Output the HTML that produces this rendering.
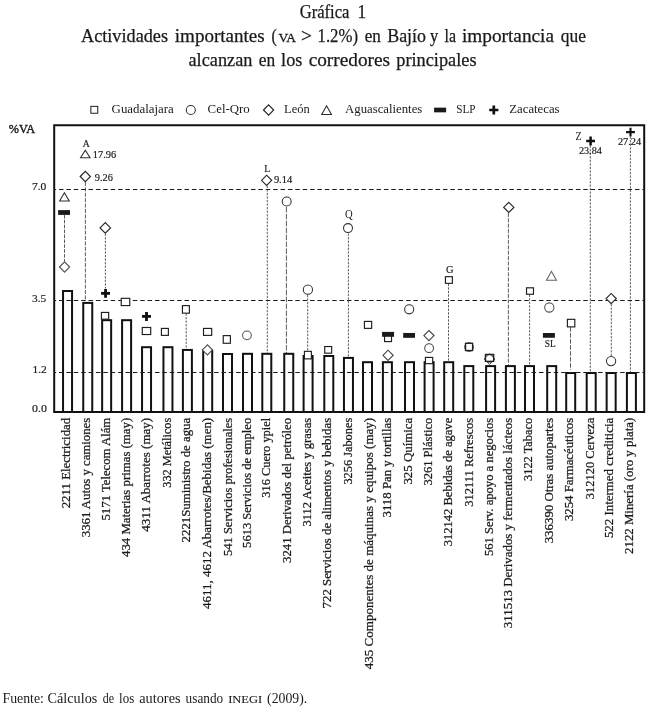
<!DOCTYPE html>
<html lang="es"><head><meta charset="utf-8"><title>Gráfica 1</title>
<style>html,body{margin:0;padding:0;background:#fff}#wrap{width:658px;height:710px;filter:grayscale(1);background:#fff}body{width:658px;height:710px;overflow:hidden;font-family:"Liberation Serif", serif}svg text{font-family:"Liberation Serif", serif}</style>
</head><body><div id="wrap">
<svg width="658" height="710" viewBox="0 0 658 710" style="display:block" shape-rendering="geometricPrecision">
<rect width="658" height="710" fill="#fff"/>
<text x="299.7" y="17.8" font-size="18.4" text-anchor="start" fill="#1a1a1a" textLength="49.8" lengthAdjust="spacingAndGlyphs" stroke="#1a1a1a" stroke-width="0.25">Gráfica</text>
<text x="357.5" y="17.8" font-size="18.4" text-anchor="start" fill="#1a1a1a" textLength="8.7" lengthAdjust="spacingAndGlyphs" stroke="#1a1a1a" stroke-width="0.25">1</text>
<text x="81" y="41.85" font-size="18.4" text-anchor="start" fill="#1a1a1a" textLength="87.0" lengthAdjust="spacingAndGlyphs" stroke="#1a1a1a" stroke-width="0.25">Actividades</text>
<text x="174.8" y="41.85" font-size="18.4" text-anchor="start" fill="#1a1a1a" textLength="89.9" lengthAdjust="spacingAndGlyphs" stroke="#1a1a1a" stroke-width="0.25">importantes</text>
<text x="271.5" y="41.85" font-size="18.4" text-anchor="start" fill="#1a1a1a" textLength="5.3" lengthAdjust="spacingAndGlyphs" stroke="#1a1a1a" stroke-width="0.25">(</text>
<text x="278.4" y="41.85" font-size="13.2" text-anchor="start" fill="#1a1a1a" textLength="17.7" lengthAdjust="spacingAndGlyphs" stroke="#1a1a1a" stroke-width="0.3">VA</text>
<text x="301.1" y="41.85" font-size="18.4" text-anchor="start" fill="#1a1a1a" textLength="10.9" lengthAdjust="spacingAndGlyphs" stroke="#1a1a1a" stroke-width="0.25">&gt;</text>
<text x="317.5" y="41.85" font-size="18.4" text-anchor="start" fill="#1a1a1a" textLength="40.5" lengthAdjust="spacingAndGlyphs" stroke="#1a1a1a" stroke-width="0.25">1.2%)</text>
<text x="364.8" y="41.85" font-size="18.4" text-anchor="start" fill="#1a1a1a" textLength="16.1" lengthAdjust="spacingAndGlyphs" stroke="#1a1a1a" stroke-width="0.25">en</text>
<text x="387.2" y="41.85" font-size="18.4" text-anchor="start" fill="#1a1a1a" textLength="38.8" lengthAdjust="spacingAndGlyphs" stroke="#1a1a1a" stroke-width="0.25">Bajío</text>
<text x="430" y="41.85" font-size="18.4" text-anchor="start" fill="#1a1a1a" textLength="8.2" lengthAdjust="spacingAndGlyphs" stroke="#1a1a1a" stroke-width="0.25">y</text>
<text x="444.5" y="41.85" font-size="18.4" text-anchor="start" fill="#1a1a1a" textLength="11.5" lengthAdjust="spacingAndGlyphs" stroke="#1a1a1a" stroke-width="0.25">la</text>
<text x="462" y="41.85" font-size="18.4" text-anchor="start" fill="#1a1a1a" textLength="92.0" lengthAdjust="spacingAndGlyphs" stroke="#1a1a1a" stroke-width="0.25">importancia</text>
<text x="560.8" y="41.85" font-size="18.4" text-anchor="start" fill="#1a1a1a" textLength="25.2" lengthAdjust="spacingAndGlyphs" stroke="#1a1a1a" stroke-width="0.25">que</text>
<text x="188.5" y="65.6" font-size="18.4" text-anchor="start" fill="#1a1a1a" textLength="63.9" lengthAdjust="spacingAndGlyphs" stroke="#1a1a1a" stroke-width="0.25">alcanzan</text>
<text x="258.7" y="65.6" font-size="18.4" text-anchor="start" fill="#1a1a1a" textLength="16.4" lengthAdjust="spacingAndGlyphs" stroke="#1a1a1a" stroke-width="0.25">en</text>
<text x="281.1" y="65.6" font-size="18.4" text-anchor="start" fill="#1a1a1a" textLength="21.3" lengthAdjust="spacingAndGlyphs" stroke="#1a1a1a" stroke-width="0.25">los</text>
<text x="308.7" y="65.6" font-size="18.4" text-anchor="start" fill="#1a1a1a" textLength="81.3" lengthAdjust="spacingAndGlyphs" stroke="#1a1a1a" stroke-width="0.25">corredores</text>
<text x="396.3" y="65.6" font-size="18.4" text-anchor="start" fill="#1a1a1a" textLength="80.2" lengthAdjust="spacingAndGlyphs" stroke="#1a1a1a" stroke-width="0.25">principales</text>
<rect x="90.85" y="106.35" width="6.90" height="6.90" fill="#fff" stroke="#1e1e1e" stroke-width="1.0"/>
<text x="111.6" y="113.2" font-size="12" text-anchor="start" fill="#1a1a1a" textLength="62.2" lengthAdjust="spacingAndGlyphs">Guadalajara</text>
<circle cx="190.8" cy="110" r="4.52" fill="#fff" stroke="#303030" stroke-width="1.05"/>
<text x="207.6" y="113.2" font-size="12" text-anchor="start" fill="#1a1a1a" textLength="42.2" lengthAdjust="spacingAndGlyphs">Cel-Qro</text>
<path d="M263.50 110L268.6 104.90L273.70 110L268.6 115.10Z" fill="#fff" stroke="#262626" stroke-width="1.15" stroke-linejoin="miter"/>
<text x="284.1" y="113.2" font-size="12" text-anchor="start" fill="#1a1a1a" textLength="25.6" lengthAdjust="spacingAndGlyphs">León</text>
<path d="M321.75 114.45L326.6 105.79L331.45 114.45Z" fill="#fff" stroke="#2e2e2e" stroke-width="1.1" stroke-linejoin="miter"/>
<text x="345.1" y="113.2" font-size="12" text-anchor="start" fill="#1a1a1a" textLength="77.2" lengthAdjust="spacingAndGlyphs">Aguascalientes</text>
<rect x="434.10" y="107.65" width="12" height="4.7" fill="#1a1a1a"/>
<text x="456.2" y="113.2" font-size="12" text-anchor="start" fill="#1a1a1a" textLength="19.3" lengthAdjust="spacingAndGlyphs">SLP</text>
<path d="M489.2 110H498.40000000000003M493.8 105.4V114.6" stroke="#111" stroke-width="2.7" fill="none"/>
<text x="509.3" y="113.2" font-size="12" text-anchor="start" fill="#1a1a1a" textLength="50.2" lengthAdjust="spacingAndGlyphs">Zacatecas</text>
<line x1="64.5" y1="214.9" x2="64.5" y2="261.6" stroke="#4a4a4a" stroke-width="0.9" stroke-dasharray="3.6 1.3"/>
<line x1="85.4" y1="182" x2="85.4" y2="300.4" stroke="#4a4a4a" stroke-width="0.9" stroke-dasharray="4 1.4"/>
<line x1="105.4" y1="233.6" x2="105.4" y2="288.6" stroke="#4a4a4a" stroke-width="0.9" stroke-dasharray="2.3 1.25"/>
<line x1="186.2" y1="313.4" x2="186.2" y2="349.5" stroke="#4a4a4a" stroke-width="0.9" stroke-dasharray="2.3 1.25"/>
<line x1="267.3" y1="185.7" x2="267.3" y2="354" stroke="#4a4a4a" stroke-width="0.9" stroke-dasharray="2.3 1.25"/>
<line x1="286.4" y1="207" x2="286.4" y2="354" stroke="#4a4a4a" stroke-width="0.9" stroke-dasharray="5.5 1.4"/>
<line x1="307.7" y1="294.8" x2="307.7" y2="351.5" stroke="#4a4a4a" stroke-width="0.9" stroke-dasharray="2.3 1.25"/>
<line x1="348.4" y1="233.5" x2="348.4" y2="357.8" stroke="#4a4a4a" stroke-width="0.9" stroke-dasharray="2.3 1.25"/>
<line x1="448.5" y1="283.8" x2="448.5" y2="361.6" stroke="#4a4a4a" stroke-width="0.9" stroke-dasharray="2.3 1.25"/>
<line x1="508.4" y1="212.9" x2="508.4" y2="365.8" stroke="#4a4a4a" stroke-width="0.9" stroke-dasharray="4 1.4"/>
<line x1="529.6" y1="294.6" x2="529.6" y2="365.8" stroke="#4a4a4a" stroke-width="0.9" stroke-dasharray="2.3 1.25"/>
<line x1="570.5" y1="327.2" x2="570.5" y2="369.8" stroke="#4a4a4a" stroke-width="0.9" stroke-dasharray="4.5 1.5"/>
<line x1="590.3" y1="145.5" x2="590.3" y2="372.0" stroke="#4a4a4a" stroke-width="0.9" stroke-dasharray="2.3 1.25"/>
<line x1="611.3" y1="304" x2="611.3" y2="356" stroke="#4a4a4a" stroke-width="0.9" stroke-dasharray="2.3 1.25"/>
<line x1="630.4" y1="136.5" x2="630.4" y2="372.0" stroke="#4a4a4a" stroke-width="0.9" stroke-dasharray="2.3 1.25"/>
<rect x="63.05" y="291.00" width="9" height="121.00" fill="#fff" stroke="#111" stroke-width="2"/>
<rect x="83.25" y="302.90" width="9" height="109.10" fill="#fff" stroke="#111" stroke-width="2"/>
<rect x="102.15" y="320.20" width="9" height="91.80" fill="#fff" stroke="#111" stroke-width="2"/>
<rect x="122.10" y="320.20" width="9" height="91.80" fill="#fff" stroke="#111" stroke-width="2"/>
<rect x="142.05" y="347.20" width="9" height="64.80" fill="#fff" stroke="#111" stroke-width="2"/>
<rect x="163.45" y="347.20" width="9" height="64.80" fill="#fff" stroke="#111" stroke-width="2"/>
<rect x="182.90" y="349.95" width="9" height="62.05" fill="#fff" stroke="#111" stroke-width="2"/>
<rect x="203.20" y="350.70" width="9" height="61.30" fill="#fff" stroke="#111" stroke-width="2"/>
<rect x="223.00" y="354.00" width="9" height="58.00" fill="#fff" stroke="#111" stroke-width="2"/>
<rect x="243.00" y="353.80" width="9" height="58.20" fill="#fff" stroke="#111" stroke-width="2"/>
<rect x="262.30" y="353.80" width="9" height="58.20" fill="#fff" stroke="#111" stroke-width="2"/>
<rect x="284.25" y="353.80" width="9" height="58.20" fill="#fff" stroke="#111" stroke-width="2"/>
<rect x="303.60" y="356.00" width="9" height="56.00" fill="#fff" stroke="#111" stroke-width="2"/>
<rect x="324.30" y="356.00" width="9" height="56.00" fill="#fff" stroke="#111" stroke-width="2"/>
<rect x="343.95" y="357.90" width="9" height="54.10" fill="#fff" stroke="#111" stroke-width="2"/>
<rect x="363.00" y="362.20" width="9" height="49.80" fill="#fff" stroke="#111" stroke-width="2"/>
<rect x="382.90" y="362.20" width="9" height="49.80" fill="#fff" stroke="#111" stroke-width="2"/>
<rect x="405.00" y="362.20" width="9" height="49.80" fill="#fff" stroke="#111" stroke-width="2"/>
<rect x="424.60" y="362.20" width="9" height="49.80" fill="#fff" stroke="#111" stroke-width="2"/>
<rect x="444.20" y="362.20" width="9" height="49.80" fill="#fff" stroke="#111" stroke-width="2"/>
<rect x="464.30" y="366.10" width="9" height="45.90" fill="#fff" stroke="#111" stroke-width="2"/>
<rect x="486.10" y="366.10" width="9" height="45.90" fill="#fff" stroke="#111" stroke-width="2"/>
<rect x="505.90" y="366.10" width="9" height="45.90" fill="#fff" stroke="#111" stroke-width="2"/>
<rect x="525.00" y="366.10" width="9" height="45.90" fill="#fff" stroke="#111" stroke-width="2"/>
<rect x="547.20" y="366.10" width="9" height="45.90" fill="#fff" stroke="#111" stroke-width="2"/>
<rect x="566.20" y="373.00" width="9" height="39.00" fill="#fff" stroke="#111" stroke-width="2"/>
<rect x="586.70" y="373.00" width="9" height="39.00" fill="#fff" stroke="#111" stroke-width="2"/>
<rect x="606.65" y="373.00" width="9" height="39.00" fill="#fff" stroke="#111" stroke-width="2"/>
<rect x="626.90" y="373.00" width="9" height="39.00" fill="#fff" stroke="#111" stroke-width="2"/>
<line x1="55" y1="189.5" x2="643.5" y2="189.5" stroke="#1c1c1c" stroke-width="1.2" stroke-dasharray="4.5 2.884" stroke-dashoffset="3.38"/>
<line x1="55" y1="300.5" x2="643.5" y2="300.5" stroke="#1c1c1c" stroke-width="1.2" stroke-dasharray="4.5 2.884" stroke-dashoffset="3.38"/>
<line x1="55" y1="372.5" x2="643.5" y2="372.5" stroke="#1c1c1c" stroke-width="1.2" stroke-dasharray="4.5 2.884" stroke-dashoffset="3.38"/>
<path d="M54.2 125.2H644.2V412H54.2Z" fill="none" stroke="#111" stroke-width="2"/>
<text x="8.8" y="132.8" font-size="12.2" text-anchor="start" fill="#1a1a1a" textLength="26.3" lengthAdjust="spacingAndGlyphs" stroke="#1a1a1a" stroke-width="0.4">%VA</text>
<text x="31.9" y="189.9" font-size="11.2" text-anchor="start" fill="#1a1a1a" textLength="14.4" lengthAdjust="spacingAndGlyphs" stroke="#1a1a1a" stroke-width="0.18">7.0</text>
<text x="31.9" y="301.6" font-size="11.2" text-anchor="start" fill="#1a1a1a" textLength="14.4" lengthAdjust="spacingAndGlyphs" stroke="#1a1a1a" stroke-width="0.18">3.5</text>
<text x="32.4" y="372.8" font-size="11.2" text-anchor="start" fill="#1a1a1a" textLength="14.4" lengthAdjust="spacingAndGlyphs" stroke="#1a1a1a" stroke-width="0.18">1.2</text>
<text x="32.1" y="411.7" font-size="11.2" text-anchor="start" fill="#1a1a1a" textLength="14.8" lengthAdjust="spacingAndGlyphs" stroke="#1a1a1a" stroke-width="0.18">0.0</text>
<path d="M59.55 200.95L64.4 192.78L69.25 200.95Z" fill="#fff" stroke="#2e2e2e" stroke-width="1.1" stroke-linejoin="miter"/>
<rect x="58.10" y="210.10" width="11.9" height="4.8" fill="#1a1a1a"/>
<path d="M59.45 267L64.55 261.90L69.65 267L64.55 272.10Z" fill="#fff" stroke="#555" stroke-width="1.15" stroke-linejoin="miter"/>
<text x="82.7" y="146.9" font-size="11" text-anchor="start" fill="#1a1a1a" textLength="7.0" lengthAdjust="spacingAndGlyphs" stroke="#1a1a1a" stroke-width="0.18">A</text>
<path d="M80.55 157.75L85.3 150.19L90.05 157.75Z" fill="#fff" stroke="#2e2e2e" stroke-width="1.1" stroke-linejoin="miter"/>
<text x="92.8" y="158.3" font-size="10" text-anchor="start" fill="#1a1a1a" textLength="23.3" lengthAdjust="spacingAndGlyphs" stroke="#1a1a1a" stroke-width="0.18">17.96</text>
<path d="M80.20 176.5L85.3 171.40L90.40 176.5L85.3 181.60Z" fill="#fff" stroke="#262626" stroke-width="1.15" stroke-linejoin="miter"/>
<text x="94.8" y="181.0" font-size="10" text-anchor="start" fill="#1a1a1a" textLength="18.0" lengthAdjust="spacingAndGlyphs" stroke="#1a1a1a" stroke-width="0.18">9.26</text>
<path d="M100.05 227.9L105.3 222.65L110.55 227.9L105.3 233.15Z" fill="#fff" stroke="#262626" stroke-width="1.15" stroke-linejoin="miter"/>
<path d="M101.1 293.35H110.0M105.55 288.90000000000003V297.8" stroke="#111" stroke-width="2.8" fill="none"/>
<rect x="101.42" y="312.43" width="7.25" height="6.75" fill="#fff" stroke="#1e1e1e" stroke-width="1.15"/>
<rect x="121.22" y="298.32" width="8.55" height="7.25" fill="#fff" stroke="#1e1e1e" stroke-width="1.15"/>
<path d="M142.0 316.4H151.0M146.5 311.9V320.9" stroke="#111" stroke-width="2.8" fill="none"/>
<rect x="142.28" y="327.48" width="8.45" height="7.05" fill="#fff" stroke="#1e1e1e" stroke-width="1.15"/>
<rect x="161.43" y="328.42" width="6.95" height="6.95" fill="#fff" stroke="#1e1e1e" stroke-width="1.15"/>
<rect x="182.43" y="305.62" width="6.95" height="7.55" fill="#fff" stroke="#1e1e1e" stroke-width="1.15"/>
<rect x="203.53" y="328.42" width="8.15" height="6.95" fill="#fff" stroke="#1e1e1e" stroke-width="1.15"/>
<path d="M202.40 349.85L207.4 344.85L212.40 349.85L207.4 354.85Z" fill="#fff" stroke="#555" stroke-width="1.15" stroke-linejoin="miter"/>
<rect x="223.23" y="335.62" width="7.15" height="7.65" fill="#fff" stroke="#1e1e1e" stroke-width="1.15"/>
<circle cx="246.95" cy="335.35" r="4.38" fill="#fff" stroke="#555" stroke-width="1.05"/>
<text x="264.3" y="172.2" font-size="11" text-anchor="start" fill="#1a1a1a" textLength="6.0" lengthAdjust="spacingAndGlyphs" stroke="#1a1a1a" stroke-width="0.18">L</text>
<path d="M261.50 180.3L266.6 175.20L271.70 180.3L266.6 185.40Z" fill="#fff" stroke="#262626" stroke-width="1.15" stroke-linejoin="miter"/>
<text x="273.9" y="183.2" font-size="10" text-anchor="start" fill="#1a1a1a" textLength="18.3" lengthAdjust="spacingAndGlyphs" stroke="#1a1a1a" stroke-width="0.18">9.14</text>
<circle cx="286.7" cy="201.5" r="4.47" fill="#fff" stroke="#303030" stroke-width="1.05"/>
<circle cx="307.9" cy="289.7" r="4.62" fill="#fff" stroke="#303030" stroke-width="1.05"/>
<rect x="304.42" y="351.33" width="6.95" height="7.55" fill="#fff" stroke="#1e1e1e" stroke-width="1.15"/>
<rect x="324.72" y="346.53" width="6.95" height="6.65" fill="#fff" stroke="#1e1e1e" stroke-width="1.15"/>
<text x="344.9" y="217.9" font-size="11.9" text-anchor="start" fill="#1a1a1a" textLength="7.7" lengthAdjust="spacingAndGlyphs" stroke="none">Q</text>
<circle cx="348.0" cy="228.1" r="4.47" fill="#fff" stroke="#303030" stroke-width="1.05"/>
<rect x="364.43" y="321.42" width="7.25" height="6.95" fill="#fff" stroke="#1e1e1e" stroke-width="1.15"/>
<rect x="384.57" y="334.43" width="6.95" height="7.15" fill="#fff" stroke="#1e1e1e" stroke-width="1.15"/>
<rect x="382.05" y="331.90" width="12" height="4.9" fill="#1a1a1a"/>
<path d="M382.95 355.3L388.05 350.20L393.15 355.3L388.05 360.40Z" fill="none" stroke="#444" stroke-width="1.15" stroke-linejoin="miter"/>
<circle cx="409.2" cy="309.3" r="4.57" fill="#fff" stroke="#303030" stroke-width="1.05"/>
<rect x="403.20" y="332.97" width="11.8" height="4.85" fill="#1a1a1a"/>
<path d="M423.85 335.6L428.95 330.50L434.05 335.6L428.95 340.70Z" fill="#fff" stroke="#444" stroke-width="1.15" stroke-linejoin="miter"/>
<circle cx="429.1" cy="348.2" r="4.38" fill="#fff" stroke="#444" stroke-width="1.05"/>
<rect x="425.43" y="357.43" width="7.25" height="6.25" fill="#fff" stroke="#1e1e1e" stroke-width="1.15"/>
<text x="446.0" y="272.7" font-size="11" text-anchor="start" fill="#1a1a1a" textLength="7.6" lengthAdjust="spacingAndGlyphs" stroke="#1a1a1a" stroke-width="0.18">G</text>
<rect x="445.42" y="276.68" width="6.95" height="6.65" fill="#fff" stroke="#1e1e1e" stroke-width="1.15"/>
<circle cx="469.05" cy="347.1" r="4.50" fill="#fff" stroke="#666" stroke-width="1.0"/>
<rect x="465.53" y="343.27" width="7.05" height="7.25" fill="#fff" stroke="#1e1e1e" stroke-width="1.35"/>
<path d="M484.10 359.1L489.5 353.70L494.90 359.1L489.5 364.50Z" fill="#fff" stroke="#555" stroke-width="1.0" stroke-linejoin="miter"/>
<circle cx="489.55" cy="358.6" r="4.05" fill="none" stroke="#666" stroke-width="0.9"/>
<rect x="485.43" y="354.45" width="8.25" height="6.90" fill="none" stroke="#1e1e1e" stroke-width="1.35"/>
<path d="M503.70 207.4L508.8 202.30L513.90 207.4L508.8 212.50Z" fill="#fff" stroke="#262626" stroke-width="1.15" stroke-linejoin="miter"/>
<rect x="526.52" y="287.82" width="6.95" height="6.45" fill="#fff" stroke="#1e1e1e" stroke-width="1.15"/>
<path d="M546.45 280.25L551.45 271.28L556.45 280.25Z" fill="#fff" stroke="#666" stroke-width="1.1" stroke-linejoin="miter"/>
<circle cx="549.3" cy="307.5" r="4.62" fill="#fff" stroke="#555" stroke-width="1.05"/>
<rect x="542.90" y="333.02" width="12" height="4.75" fill="#1a1a1a"/>
<text x="544.7" y="346.6" font-size="10.7" text-anchor="start" fill="#1a1a1a" textLength="10.9" lengthAdjust="spacingAndGlyphs" stroke="#1a1a1a" stroke-width="0.18">SL</text>
<rect x="567.38" y="319.33" width="7.45" height="7.55" fill="#fff" stroke="#1e1e1e" stroke-width="1.15"/>
<text x="575.5" y="140.0" font-size="11.6" text-anchor="start" fill="#1a1a1a" textLength="6.2" lengthAdjust="spacingAndGlyphs">Z</text>
<path d="M586.2 141.0H595.0M590.6 136.6V145.4" stroke="#111" stroke-width="2.5" fill="none"/>
<text x="578.9" y="154.0" font-size="10" text-anchor="start" fill="#1a1a1a" textLength="23.0" lengthAdjust="spacingAndGlyphs" stroke="#1a1a1a" stroke-width="0.18">23.84</text>
<path d="M626.1 132.1H634.9M630.5 127.69999999999999V136.5" stroke="#111" stroke-width="2.1" fill="none"/>
<text x="617.9" y="144.8" font-size="10" text-anchor="start" fill="#1a1a1a" textLength="23.3" lengthAdjust="spacingAndGlyphs" stroke="#1a1a1a" stroke-width="0.18">27.24</text>
<path d="M606.05 298.55L611.15 293.45L616.25 298.55L611.15 303.65Z" fill="#fff" stroke="#262626" stroke-width="1.15" stroke-linejoin="miter"/>
<circle cx="611.1" cy="361.05" r="4.62" fill="#fff" stroke="#303030" stroke-width="1.05"/>
<text transform="translate(70.3,508.3) rotate(-90)" font-size="12.2" fill="#1a1a1a" stroke="#1a1a1a" stroke-width="0.25" textLength="90.5" lengthAdjust="spacingAndGlyphs">2211 Electricidad</text>
<text transform="translate(90.4,537.2) rotate(-90)" font-size="12.2" fill="#1a1a1a" stroke="#1a1a1a" stroke-width="0.25" textLength="119.4" lengthAdjust="spacingAndGlyphs">3361 Autos y camiones</text>
<text transform="translate(109.9,520.5) rotate(-90)" font-size="12.2" fill="#1a1a1a" stroke="#1a1a1a" stroke-width="0.25" textLength="102.7" lengthAdjust="spacingAndGlyphs">5171 Telecom Alám</text>
<text transform="translate(130.0,557.0) rotate(-90)" font-size="12.2" fill="#1a1a1a" stroke="#1a1a1a" stroke-width="0.25" textLength="139.2" lengthAdjust="spacingAndGlyphs">434 Materias primas (may)</text>
<text transform="translate(150.3,531.7) rotate(-90)" font-size="12.2" fill="#1a1a1a" stroke="#1a1a1a" stroke-width="0.25" textLength="113.9" lengthAdjust="spacingAndGlyphs">4311 Abarrotes (may)</text>
<text transform="translate(170.7,487.7) rotate(-90)" font-size="12.2" fill="#1a1a1a" stroke="#1a1a1a" stroke-width="0.25" textLength="69.9" lengthAdjust="spacingAndGlyphs">332 Metálicos</text>
<text transform="translate(190.4,542.4) rotate(-90)" font-size="12.2" fill="#1a1a1a" stroke="#1a1a1a" stroke-width="0.25" textLength="124.6" lengthAdjust="spacingAndGlyphs">2221Suministro de agua</text>
<text transform="translate(211.1,609.0) rotate(-90)" font-size="12.2" fill="#1a1a1a" stroke="#1a1a1a" stroke-width="0.25" textLength="191.2" lengthAdjust="spacingAndGlyphs">4611, 4612 Abarrotes/Bebidas (men)</text>
<text transform="translate(231.5,556.0) rotate(-90)" font-size="12.2" fill="#1a1a1a" stroke="#1a1a1a" stroke-width="0.25" textLength="138.2" lengthAdjust="spacingAndGlyphs">541 Servicios profesionales</text>
<text transform="translate(251.2,547.9) rotate(-90)" font-size="12.2" fill="#1a1a1a" stroke="#1a1a1a" stroke-width="0.25" textLength="130.1" lengthAdjust="spacingAndGlyphs">5613 Servicios de empleo</text>
<text transform="translate(270.4,497.7) rotate(-90)" font-size="12.2" fill="#1a1a1a" stroke="#1a1a1a" stroke-width="0.25" textLength="79.9" lengthAdjust="spacingAndGlyphs">316 Cuero ypiel</text>
<text transform="translate(290.8,563.0) rotate(-90)" font-size="12.2" fill="#1a1a1a" stroke="#1a1a1a" stroke-width="0.25" textLength="145.2" lengthAdjust="spacingAndGlyphs">3241 Derivados del petróleo</text>
<text transform="translate(311.4,526.6) rotate(-90)" font-size="12.2" fill="#1a1a1a" stroke="#1a1a1a" stroke-width="0.25" textLength="108.8" lengthAdjust="spacingAndGlyphs">3112 Aceites y grasas</text>
<text transform="translate(331.2,608.4) rotate(-90)" font-size="12.2" fill="#1a1a1a" stroke="#1a1a1a" stroke-width="0.25" textLength="190.6" lengthAdjust="spacingAndGlyphs">722 Servicios de alimentos y bebidas</text>
<text transform="translate(351.6,484.6) rotate(-90)" font-size="12.2" fill="#1a1a1a" stroke="#1a1a1a" stroke-width="0.25" textLength="66.8" lengthAdjust="spacingAndGlyphs">3256 Jabones</text>
<text transform="translate(372.5,669.3) rotate(-90)" font-size="12.2" fill="#1a1a1a" stroke="#1a1a1a" stroke-width="0.25" textLength="251.5" lengthAdjust="spacingAndGlyphs">435 Componentes de máquinas y equipos (may)</text>
<text transform="translate(391.1,517.5) rotate(-90)" font-size="12.2" fill="#1a1a1a" stroke="#1a1a1a" stroke-width="0.25" textLength="99.7" lengthAdjust="spacingAndGlyphs">3118 Pan y tortillas</text>
<text transform="translate(411.7,484.6) rotate(-90)" font-size="12.2" fill="#1a1a1a" stroke="#1a1a1a" stroke-width="0.25" textLength="66.8" lengthAdjust="spacingAndGlyphs">325 Química</text>
<text transform="translate(431.5,485.5) rotate(-90)" font-size="12.2" fill="#1a1a1a" stroke="#1a1a1a" stroke-width="0.25" textLength="67.7" lengthAdjust="spacingAndGlyphs">3261 Plástico</text>
<text transform="translate(452.2,546.3) rotate(-90)" font-size="12.2" fill="#1a1a1a" stroke="#1a1a1a" stroke-width="0.25" textLength="128.5" lengthAdjust="spacingAndGlyphs">312142 Bebidas de agave</text>
<text transform="translate(472.5,506.8) rotate(-90)" font-size="12.2" fill="#1a1a1a" stroke="#1a1a1a" stroke-width="0.25" textLength="89.0" lengthAdjust="spacingAndGlyphs">312111 Refrescos</text>
<text transform="translate(493.2,556.0) rotate(-90)" font-size="12.2" fill="#1a1a1a" stroke="#1a1a1a" stroke-width="0.25" textLength="138.2" lengthAdjust="spacingAndGlyphs">561 Serv. apoyo a negocios</text>
<text transform="translate(512.3,628.2) rotate(-90)" font-size="12.2" fill="#1a1a1a" stroke="#1a1a1a" stroke-width="0.25" textLength="210.4" lengthAdjust="spacingAndGlyphs">311513 Derivados y fermentados lácteos</text>
<text transform="translate(532.1,481.0) rotate(-90)" font-size="12.2" fill="#1a1a1a" stroke="#1a1a1a" stroke-width="0.25" textLength="63.2" lengthAdjust="spacingAndGlyphs">3122 Tabaco</text>
<text transform="translate(552.5,543.3) rotate(-90)" font-size="12.2" fill="#1a1a1a" stroke="#1a1a1a" stroke-width="0.25" textLength="125.5" lengthAdjust="spacingAndGlyphs">336390 Otras autopartes</text>
<text transform="translate(572.8,521.1) rotate(-90)" font-size="12.2" fill="#1a1a1a" stroke="#1a1a1a" stroke-width="0.25" textLength="103.3" lengthAdjust="spacingAndGlyphs">3254 Farmacéuticos</text>
<text transform="translate(593.5,499.2) rotate(-90)" font-size="12.2" fill="#1a1a1a" stroke="#1a1a1a" stroke-width="0.25" textLength="81.4" lengthAdjust="spacingAndGlyphs">312120 Cerveza</text>
<text transform="translate(613.3,538.1) rotate(-90)" font-size="12.2" fill="#1a1a1a" stroke="#1a1a1a" stroke-width="0.25" textLength="120.3" lengthAdjust="spacingAndGlyphs">522 Intermed crediticia</text>
<text transform="translate(633.0,553.9) rotate(-90)" font-size="12.2" fill="#1a1a1a" stroke="#1a1a1a" stroke-width="0.25" textLength="136.1" lengthAdjust="spacingAndGlyphs">2122 Minería (oro y plata)</text>
<text x="2.5" y="702.6" font-size="14.4" text-anchor="start" fill="#1a1a1a" textLength="41.4" lengthAdjust="spacingAndGlyphs">Fuente:</text>
<text x="47.6" y="702.6" font-size="14.4" text-anchor="start" fill="#1a1a1a" textLength="49.7" lengthAdjust="spacingAndGlyphs">Cálculos</text>
<text x="102.8" y="702.6" font-size="14.4" text-anchor="start" fill="#1a1a1a" textLength="11.3" lengthAdjust="spacingAndGlyphs">de</text>
<text x="119.1" y="702.6" font-size="14.4" text-anchor="start" fill="#1a1a1a" textLength="15.1" lengthAdjust="spacingAndGlyphs">los</text>
<text x="139.2" y="702.6" font-size="14.4" text-anchor="start" fill="#1a1a1a" textLength="41.4" lengthAdjust="spacingAndGlyphs">autores</text>
<text x="185.6" y="702.6" font-size="14.4" text-anchor="start" fill="#1a1a1a" textLength="37.6" lengthAdjust="spacingAndGlyphs">usando</text>
<text x="228.2" y="702.6" font-size="10.5" text-anchor="start" fill="#1a1a1a" textLength="33.9" lengthAdjust="spacingAndGlyphs" stroke="#1a1a1a" stroke-width="0.1">INEGI</text>
<text x="267.1" y="702.6" font-size="14.4" text-anchor="start" fill="#1a1a1a" textLength="40.1" lengthAdjust="spacingAndGlyphs">(2009).</text>
</svg>
</div></body></html>
